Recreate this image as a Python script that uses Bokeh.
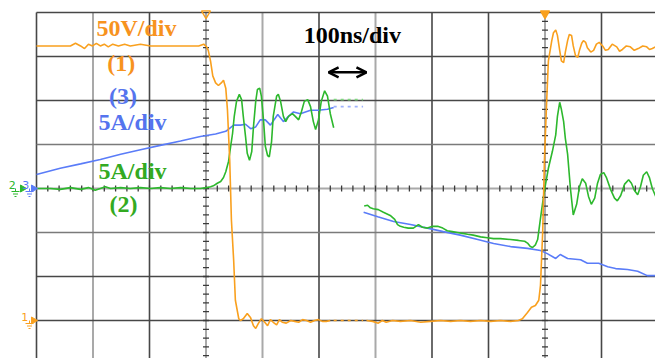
from bokeh.plotting import figure
from bokeh.models import Range1d, Label, Arrow, OpenHead
from bokeh.embed import file_html
from bokeh.resources import INLINE
import numpy as np

# ---------------- data (time in ns, ch1 in V, ch2/ch3 in A) ----------------
# Channel 1 (voltage, 50 V/div), left capture (turn-off)
t1_left = [0, 25, 46, 60, 69, 78, 85, 92, 99, 106, 113, 120, 127, 135, 145, 156, 166, 184, 202, 219,
           237, 255, 273, 287, 296, 301, 304, 308, 312, 317, 322, 327, 331, 335, 338, 342, 345, 349, 352, 358,
           361, 366, 373, 379, 384, 388, 393, 398, 404, 409, 414, 419, 425, 430, 435, 442, 450, 457, 464, 471,
           478, 485, 492, 499, 506, 513, 520]
v1_left = [312, 312, 312, 312, 315, 312, 309, 314, 312, 315, 312, 314, 311, 314, 312, 314, 312, 314, 312, 312,
           312, 312, 312, 312, 314, 311, 307, 295, 278, 270, 267, 270, 273, 264, 239, 182, 114, 68, 23, 2,
           0, 2, 8, 3, -6, -9, -3, 2, -2, -6, 1, -2, -5, 1, -2, -3, 0, -1, -2, 1,
           0, -2, 0, 1, -1, -1, 0]
# Channel 1, right capture (turn-on)
t1_right = [584, 595, 605, 612, 619, 630, 644, 662, 680, 697, 715, 733, 750, 768, 786, 804, 821, 839, 853, 860,
            869, 876, 883, 889, 892, 896, 899, 903, 906, 912, 915, 919, 922, 926, 929, 933, 936, 940, 943, 947,
            950, 954, 958, 961, 965, 968, 972, 975, 981, 986, 991, 996, 1002, 1007, 1012, 1019, 1027, 1032, 1037, 1044,
            1051, 1058, 1065, 1073, 1080, 1085, 1090, 1096]
v1_right = [0, -1, -3, 0, -2, 0, -1, 0, -2, -1, 0, -1, 0, -1, 0, -1, 0, -1, 0, 2,
            9, 15, 17, 23, 40, 102, 182, 250, 295, 318, 327, 330, 324, 307, 295, 293, 305, 318, 325, 324,
            312, 301, 299, 307, 315, 318, 316, 310, 305, 307, 314, 316, 312, 307, 308, 314, 311, 306, 308, 312,
            311, 307, 309, 312, 311, 308, 309, 311]

# Channel 2 (current, 5 A/div)
t2_left = [0, 25, 42, 60, 78, 92, 104, 113, 122, 131, 149, 166, 184, 202, 219, 237, 255, 273, 290, 301,
           308, 313, 320, 326, 331, 335, 340, 343, 347, 350, 354, 359, 363, 366, 370, 373, 377, 381, 384, 388,
           391, 395, 398, 402, 405, 409, 412, 416, 419, 425, 428, 432, 437, 441, 446, 453, 458, 464, 469, 474,
           480, 485, 490, 494, 499, 504, 510, 515, 520, 526]
i2_left = [0, 0, -0.1, 0.1, -0.1, 0.1, -0.2, 0, 0.2, 0, 0.1, 0, 0.1, 0, 0.1, 0, 0.1, 0, 0, 0.1,
           0.2, 0.3, 0.6, 0.8, 1.25, 1.9, 3.1, 4.5, 6.25, 8.2, 9.9, 10.7, 10.1, 8.2, 5.9, 4.0, 3.2, 4.2, 7.0, 9.9,
           11.25, 11.4, 10.5, 7.6, 4.8, 3.75, 3.6, 5.3, 8.2, 10.5, 10.7, 9.9, 8.2, 7.6, 8.2, 8.5, 8.2, 7.8, 8.75, 9.9,
           10.1, 9.3, 7.6, 6.7, 7.8, 9.9, 11.1, 10.5, 8.5, 6.9]
t2_right = [580, 586, 591, 596, 605, 614, 627, 634, 639, 644, 650, 658, 667, 676, 683, 692, 701, 710, 719, 727,
            736, 745, 754, 763, 773, 786, 798, 809, 821, 839, 853, 864, 869, 874, 878, 883, 887, 892, 897, 901,
            906, 913, 919, 922, 926, 929, 933, 936, 940, 945, 950, 956, 961, 966, 972, 977, 982, 988, 993, 998,
            1004, 1009, 1016, 1023, 1028, 1034, 1041, 1048, 1053, 1058, 1064, 1069, 1074, 1080, 1085, 1090, 1096]
i2_right = [-2.0, -1.9, -2.2, -2.3, -2.4, -2.7, -3.1, -3.5, -4.1, -4.3, -4.4, -4.5, -4.5, -4.1, -4.4, -4.5, -4.3, -4.3, -4.5, -4.8,
            -4.9, -5.0, -5.1, -5.2, -5.3, -5.5, -5.6, -5.7, -5.7, -5.8, -5.9, -6.0, -6.2, -6.6, -6.7, -6.4, -5.8, -3.4, -1.1, 0.5,
            2.3, 4.2, 6.1, 8.2, 9.8, 9.0, 7.6, 5.7, 3.9, 0.0, -3.0, -1.8, 0.2, 1.1, 0.6, -0.9, -1.8, -1.1, 0.6, 1.6,
            1.8, 1.2, -0.1, -1.1, -1.4, -0.8, 0.5, 1.0, 0.6, -0.2, -0.7, 0.2, 1.5, 1.9, 1.2, 0.0, -0.9]

# Channel 3 (current, 5 A/div)
t3_left = [0, 42, 78, 113, 149, 184, 219, 255, 290, 317, 335, 349, 361, 370, 379, 388, 396, 405, 414, 427,
           437, 446, 455, 467, 485, 499, 515, 526]
i3_left = [1.6, 2.3, 2.8, 3.3, 3.9, 4.4, 4.9, 5.4, 5.9, 6.2, 6.5, 7.2, 7.2, 7.3, 6.8, 7.0, 7.8, 7.8, 7.2, 8.4,
           7.6, 8.2, 8.7, 8.5, 8.9, 8.9, 9.0, 9.2]
t3_right = [579, 604, 632, 662, 692, 720, 750, 781, 809, 839, 869, 892, 904, 919, 927, 940, 963, 975, 995, 1011,
            1025, 1046, 1064, 1081, 1096]
i3_right = [-2.7, -3.2, -3.75, -4.1, -4.5, -4.9, -5.3, -5.8, -6.25, -6.6, -6.8, -7.05, -7.4, -7.95, -7.5, -7.95, -8.1, -8.5, -8.5, -8.9,
            -9.1, -9.2, -9.4, -9.9, -9.9]

# dotted joins between the two captures
t_gap = [526, 578]
v1_gap = [0, 0]
i2_gap = [10.1, 10.1]
i3_gap = [9.3, 9.3]

# ---------------- figure ----------------
ORANGE = "#F9A01E"
GREEN = "#2DB82D"
BLUE = "#5A7CF8"
T_ORANGE = "#F7931E"
T_GREEN = "#33AA22"
T_BLUE = "#5574EE"

DIV_T = 100.0            # ns per division
PX_T = DIV_T / 56.5      # ns per screen pixel
PX_D = 1 / 44.0          # divisions per screen pixel
X_MIN = -36 * PX_T
X_MAX = 619 * PX_T
Y_TOP = 8 + 12 * PX_D
Y_MIN = 8 - 346 * PX_D

p = figure(width=655, height=358, output_backend="svg", toolbar_location=None,
           x_range=Range1d(X_MIN, X_MAX), y_range=Range1d(Y_MIN, Y_TOP),
           x_axis_location=None, y_axis_location=None,
           min_border_left=0, min_border_top=0, min_border_right=0, min_border_bottom=0)
p.outline_line_color = None
p.xgrid.visible = False
p.ygrid.visible = False
p.background_fill_color = "white"
p.border_fill_color = "white"

p.extra_y_ranges = {
    "volt": Range1d((Y_MIN - 1) * 50, (Y_TOP - 1) * 50),
    "amp": Range1d((Y_MIN - 4) * 5, (Y_TOP - 4) * 5),
}

DARK = "#474747"
MID = "#7a7a7a"
LIGHT = "#a9a9a9"
v_styles = {0: DARK, 1: LIGHT, 2: DARK, 3: LIGHT, 4: LIGHT, 5: DARK, 6: LIGHT, 7: DARK, 8: DARK, 9: LIGHT, 10: DARK}
for k, c in v_styles.items():
    p.segment(x0=k * DIV_T, x1=k * DIV_T, y0=Y_MIN, y1=8, line_color=c,
              line_width=2 if c == LIGHT else 1.6)
h_styles = {1: DARK, 2: DARK, 3: MID, 4: LIGHT, 5: MID, 6: DARK, 7: DARK, 8: DARK}
for k, c in h_styles.items():
    p.segment(x0=0, x1=X_MAX, y0=k, y1=k, line_color=c,
              line_width=2 if c == LIGHT else 1.6)

# minor ticks on the centre axes
yt = np.arange(0.2, 8.0, 0.2)
for xc in (3 * DIV_T, 9 * DIV_T):
    p.segment(x0=xc - 3 * PX_T, x1=xc + 3 * PX_T, y0=yt, y1=yt, line_color="#3a3a3a", line_width=1.3)
xt = np.arange(20, X_MAX, 20)
p.segment(x0=xt, x1=xt, y0=4 - 3 * PX_D, y1=4 + 3 * PX_D, line_color="#3a3a3a", line_width=1.3)

# traces
p.line(t3_left, i3_left, y_range_name="amp", line_color=BLUE, line_width=1.6)
p.line(t3_right, i3_right, y_range_name="amp", line_color=BLUE, line_width=1.6)
p.line(t2_left, i2_left, y_range_name="amp", line_color=GREEN, line_width=1.6)
p.line(t2_right, i2_right, y_range_name="amp", line_color=GREEN, line_width=1.6)
p.line(t1_left, v1_left, y_range_name="volt", line_color=ORANGE, line_width=1.6)
p.line(t1_right, v1_right, y_range_name="volt", line_color=ORANGE, line_width=1.6)
p.line(t_gap, v1_gap, y_range_name="volt", line_color=ORANGE, line_width=1.6, line_dash="3 4")
p.line(t_gap, i2_gap, y_range_name="amp", line_color="#7fd67f", line_width=1.6, line_dash="3 4")
p.line(t_gap, i3_gap, y_range_name="amp", line_color="#9fb2fb", line_width=1.6, line_dash="3 4")

# trigger markers on the top edge
p.scatter(x=[3 * DIV_T, 9 * DIV_T], y=[8 - 1 * PX_D, 8 - 1 * PX_D], marker="inverted_triangle", size=9,
          fill_color=[None, ORANGE], line_color=ORANGE, line_width=1.4)

# texts
FONT = "Liberation Serif"
UP = 7 * PX_D
def lab(x, y, text, color, size="24px", align="center"):
    p.add_layout(Label(x=x, y=y + UP, text=text, text_color=color, text_font=FONT,
                       text_font_size=size, text_font_style="bold",
                       text_align=align, text_baseline="alphabetic"))

lab(177, 7.48, "50V/div", T_ORANGE)
lab(150, 6.70, "(1)", T_ORANGE)
lab(153, 5.95, "(3)", T_BLUE)
lab(170, 5.36, "5A/div", T_BLUE)
lab(170, 4.25, "5A/div", T_GREEN)
lab(154, 3.48, "(2)", T_GREEN)
lab(559, 7.32, "100ns/div", "black")

p.add_layout(Arrow(x_start=517, x_end=584, y_start=6.64, y_end=6.64,
                   line_color="black", line_width=2.5,
                   start=OpenHead(size=10, line_width=2.5, line_color="black"),
                   end=OpenHead(size=10, line_width=2.5, line_color="black")))

# channel reference markers left of the screen
def mark(x, y, text, color):
    p.add_layout(Label(x=x, y=y, text=text, text_color=color, text_font="DejaVu Sans",
                       text_font_size="11px", text_align="center", text_baseline="middle"))

def ground(xpx, level, color):
    xc = xpx * PX_T
    y0 = level - 3 * PX_D
    p.segment(x0=xc, x1=xc, y0=level, y1=y0, line_color=color, line_width=1)
    for k, hw in enumerate((4, 2.5, 1)):
        yy = y0 - 2.5 * k * PX_D
        p.segment(x0=xc - hw * PX_T, x1=xc + hw * PX_T, y0=yy, y1=yy, line_color=color, line_width=1)

def pointer(xpx, level, color):
    p.scatter(x=[xpx * PX_T], y=[level], marker="triangle", angle=-np.pi / 2, size=7,
              fill_color=color, line_color=color)

mark(-43, 4.08, "2", GREEN)
pointer(-14, 4, GREEN)
mark(-19, 4.08, "3", BLUE)
pointer(-3, 4, BLUE)
ground(-21, 4, GREEN)
ground(-7, 4, BLUE)
mark(-21, 1.08, "1", ORANGE)
pointer(-3, 1, ORANGE)
ground(-7, 1, ORANGE)

open("out.html", "w").write(file_html(p, INLINE))
